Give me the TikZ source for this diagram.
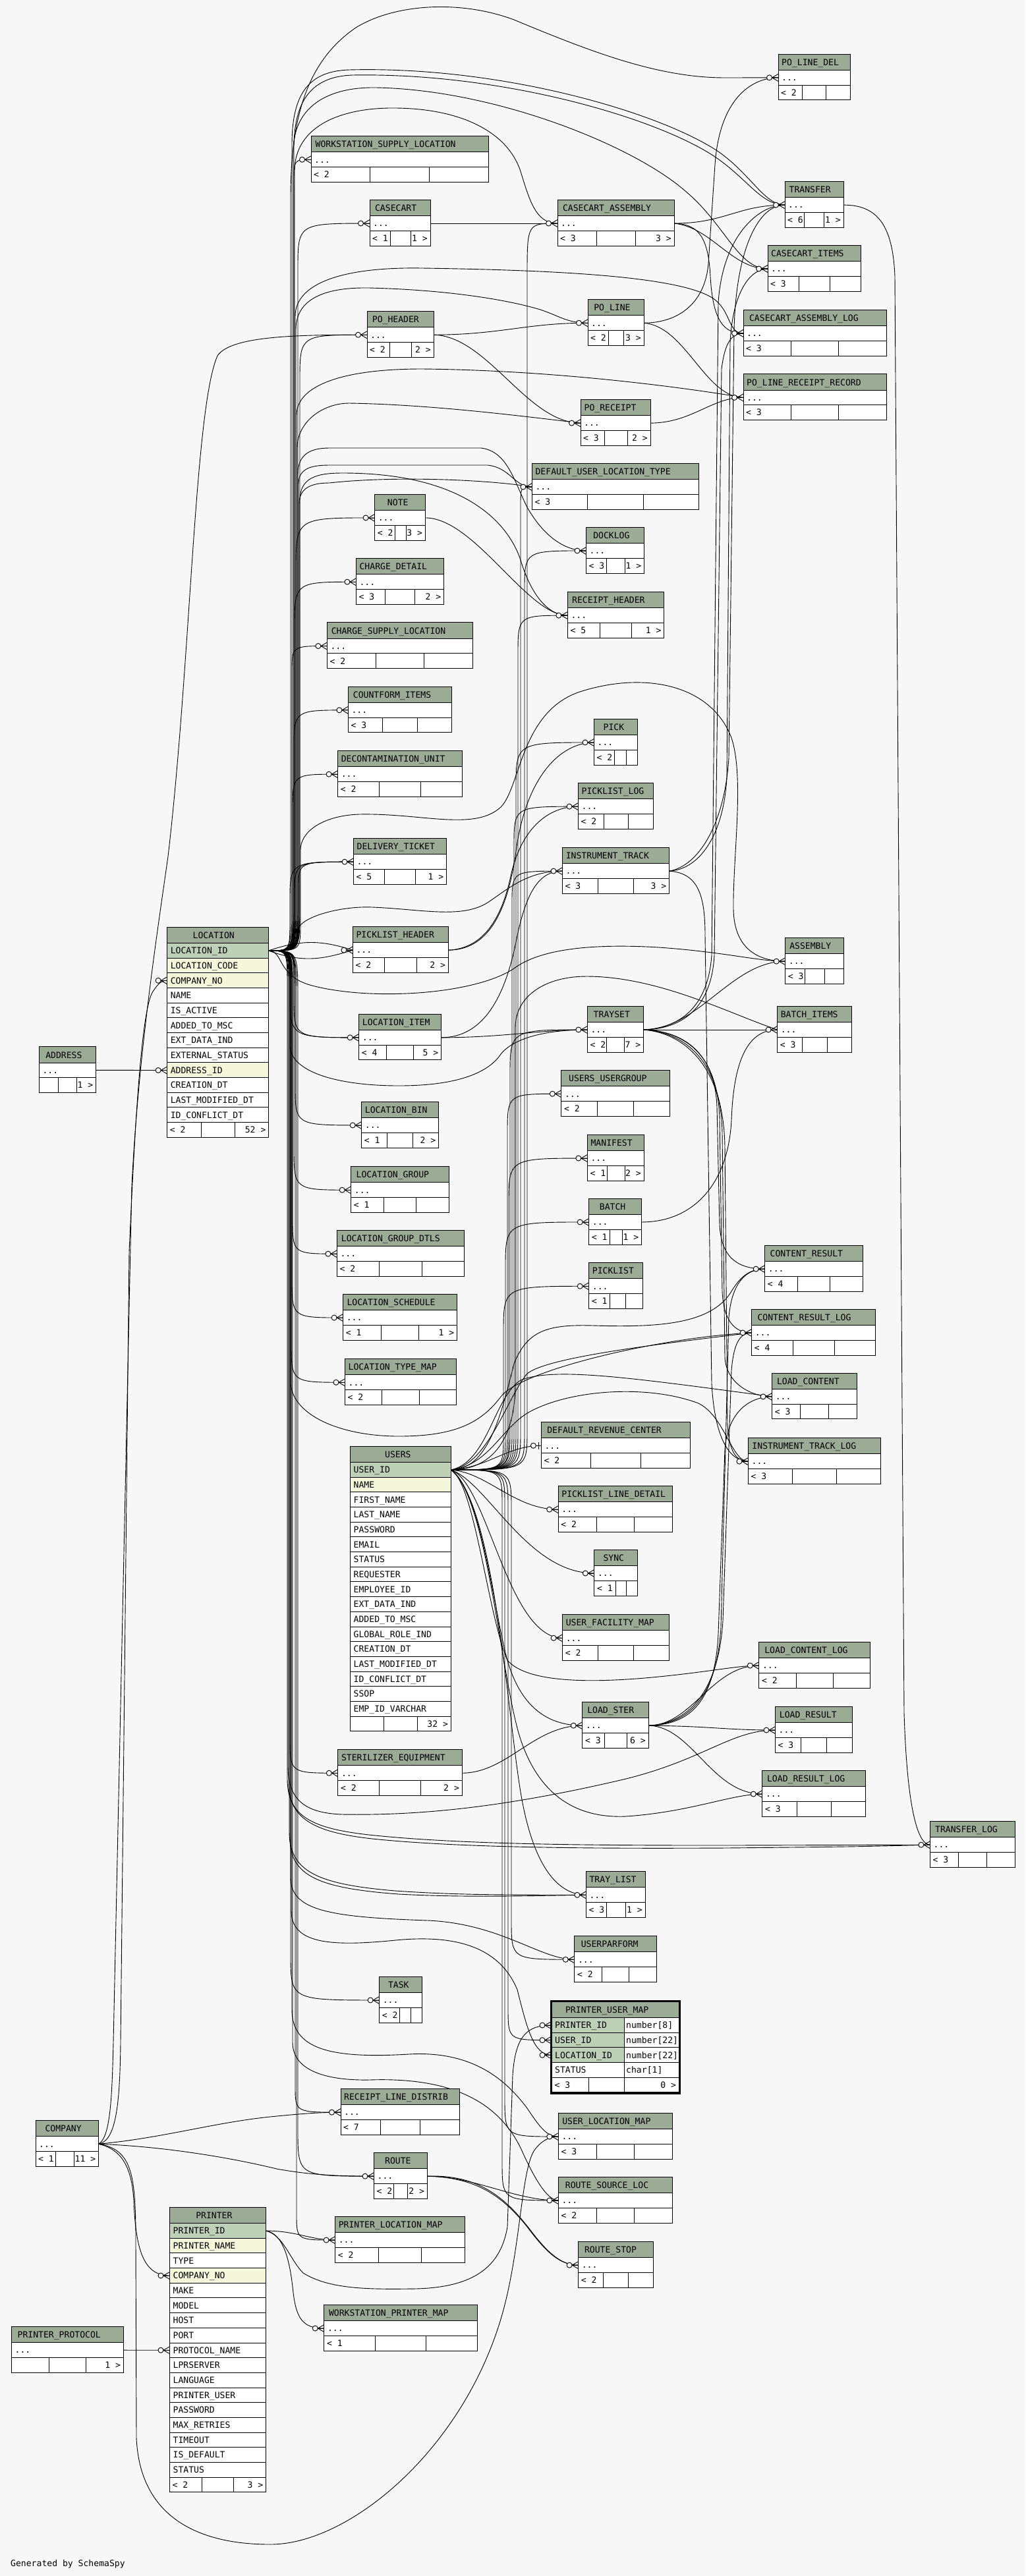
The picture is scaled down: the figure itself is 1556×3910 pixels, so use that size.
\documentclass[tikz,border=0pt]{standalone}
\usepackage{fontspec}
\newfontfamily\tabfam{DejaVu Sans Mono}
\newcommand\tabfont{\tabfam\fontsize{13.1}{15}\selectfont}
\usetikzlibrary{calc}
\definecolor{bgc}{HTML}{F7F7F7}
\definecolor{hdr}{HTML}{9BAB96}
\definecolor{pkc}{HTML}{BED1B8}
\definecolor{idx}{HTML}{F4F7DA}
\pgfdeclarelayer{bglayer}
\pgfdeclarelayer{edgelayer}
\pgfsetlayers{bglayer,edgelayer,main}
\tikzset{
 edge/.style={draw=black,line width=0.9pt},
 cell/.style={draw=black,line width=1pt},
 txt/.style={inner sep=0pt,text height=9.5pt,text depth=0pt,font=\tabfont},
}
% header text: id, L, R, T, name  (measured with a phantom node)
\newcommand\hdrtext[5]{%
 \node[txt,anchor=west] (#1-m) at (#2,#4+12.6) {\phantom{#5}};
 \path let \p1=(#1-m.east), \p2=(#1-m.west), \n1={max(#2+5,(#2+#3)/2-0.6*(\x1-\x2))} in node[txt,anchor=west] (#1) at (\n1,#4+12.6) {#5};}
% compact table: id, L, T, R, name, footL, footR, s1, s2
\newcommand\tbl[9]{%
 \fill[hdr] (#2,#3) rectangle (#4,#3+24.3);
 \fill[white] (#2,#3+24.3) rectangle (#4,#3+69.7);
 \draw[cell] (#2,#3) rectangle (#4,#3+69.7);
 \draw[cell] (#2,#3+24.3) -- (#4,#3+24.3);
 \draw[cell] (#2,#3+47) -- (#4,#3+47);
 \draw[cell] (#8,#3+47) -- (#8,#3+69.7);
 \draw[cell] (#9,#3+47) -- (#9,#3+69.7);
 \hdrtext{#1}{#2}{#4}{#3}{#5}
 \node[txt,anchor=west] at (#2+5,#3+35.65) {...};
 \node[txt,anchor=west] at (#2+4,#3+58.35) {#6};
 \node[txt,anchor=east] at (#4-4,#3+58.35) {#7};
 \coordinate (#1-i) at (#2,#3+35.65);
 \coordinate (#1-o) at (#4,#3+35.65);
}
% detailed table parts
\newcommand\dhead[5]{% id, L, R, T, name
 \filldraw[fill=hdr,cell] (#2,#4) rectangle (#3,#4+24.3);
 \hdrtext{#1}{#2}{#3}{#4}{#5}}
\newcommand\drow[5]{% L, R, top, color, text
 \filldraw[fill=#4,cell] (#1,#3) rectangle (#2,#3+22.67);
 \node[txt,anchor=west] at (#1+5,#3+11.33) {#5};}
\newcommand\dfoot[7]{% L, R, top, s1, s2, ltext, rtext
 \filldraw[fill=white,cell] (#1,#3) rectangle (#2,#3+22.67);
 \draw[cell] (#4,#3) -- (#4,#3+22.67);
 \draw[cell] (#5,#3) -- (#5,#3+22.67);
 \node[txt,anchor=west] at (#1+4,#3+11.33) {#6};
 \node[txt,anchor=east] at (#2-4,#3+11.33) {#7};}
% bus routed edges
\newcommand\busu[5]{\draw[edge] let \p1=(#1), \p2=(#2) in (#1) .. controls (#3pt,\y1) .. (#3pt,\y1+#4pt) -- (#3pt,\y2-#5pt) .. controls (#3pt,\y2) .. (#2);}
\newcommand\busd[5]{\draw[edge] let \p1=(#1), \p2=(#2) in (#1) .. controls (#3pt,\y1) .. (#3pt,\y1-#4pt) -- (#3pt,\y2+#5pt) .. controls (#3pt,\y2) .. (#2);}
% crow's foot with open circle
\newcommand\crow[1]{%
 \draw[edge] ($(#1)+(-9.5,0)$) -- ($(#1)+(0,-5.5)$);
 \draw[edge] ($(#1)+(-9.5,0)$) -- ($(#1)+(0,5.5)$);
 \draw[edge] ($(#1)+(-9.5,0)$) -- (#1);
 \filldraw[edge,fill=bgc] ($(#1)+(-13.5,0)$) circle[radius=4];}

\begin{document}
\begin{tikzpicture}[x=1pt,y=-1pt]
\useasboundingbox (0,0) rectangle (1556,3910);
\begin{pgfonlayer}{bglayer}
\fill[bgc] (0,0) rectangle (1556,3910);
\end{pgfonlayer}

% ---------------- compact tables ----------------
\tbl{pld}{1181}{82.2}{1290}{PO\_LINE\_DEL}{< 2}{}{1217.3}{1253.7}
\tbl{wsl}{472}{206.6}{741}{WORKSTATION\_SUPPLY\_LOCATION}{< 2}{}{561.7}{651.3}
\tbl{cc}{561}{303.4}{653}{CASECART}{< 1}{1 >}{592.6}{623.2}
\tbl{cca}{846}{303.4}{1023}{CASECART\_ASSEMBLY}{< 3}{3 >}{905}{964}
\tbl{trf}{1191}{275.5}{1280}{TRANSFER}{< 6}{1 >}{1220.7}{1250.3}
\tbl{cci}{1165}{372.3}{1306}{CASECART\_ITEMS}{< 3}{}{1212}{1259}
\tbl{cal}{1128}{470.3}{1345}{CASECART\_ASSEMBLY\_LOG}{< 3}{}{1200.3}{1272.7}
\tbl{plrr}{1128}{567.8}{1345}{PO\_LINE\_RECEIPT\_RECORD}{< 3}{}{1200.3}{1272.7}
\tbl{poh}{557}{472.6}{658}{PO\_HEADER}{< 2}{2 >}{591.3}{624.5}
\tbl{pol}{892}{454.6}{977}{PO\_LINE}{< 2}{3 >}{923.6}{946}
\tbl{por}{881}{606.5}{987}{PO\_RECEIPT}{< 3}{2 >}{917.7}{952.5}
\tbl{dult}{807.4}{703.4}{1060.7}{DEFAULT\_USER\_LOCATION\_TYPE}{< 3}{}{891.8}{976.3}
\tbl{note}{568.6}{750.3}{645.3}{NOTE}{< 2}{3 >}{599.7}{616.7}
\tbl{dock}{889.5}{800.3}{977.4}{DOCKLOG}{< 3}{1 >}{920.6}{948.3}
\tbl{chd}{540.4}{847.6}{673.5}{CHARGE\_DETAIL}{< 3}{2 >}{584.8}{629.1}
\tbl{rh}{861.3}{898.5}{1007.6}{RECEIPT\_HEADER}{< 5}{1 >}{910.1}{958.8}
\tbl{csl}{496.4}{944.9}{717.4}{CHARGE\_SUPPLY\_LOCATION}{< 2}{}{570.1}{643.7}
\tbl{cfi}{528.4}{1042.2}{685.5}{COUNTFORM\_ITEMS}{< 3}{}{580.8}{633.1}
\tbl{pick}{901.5}{1091.3}{967.8}{PICK}{< 2}{}{932.6}{950}
\tbl{dec}{512.6}{1139.5}{701.3}{DECONTAMINATION\_UNIT}{< 2}{}{575.5}{638.4}
\tbl{pll}{877.5}{1188.5}{991.4}{PICKLIST\_LOG}{< 2}{}{916.7}{953.4}
\tbl{dt}{536.5}{1272.5}{677.5}{DELIVERY\_TICKET}{< 5}{1 >}{583.5}{630.5}
\tbl{it}{853.5}{1286.5}{1015.5}{INSTRUMENT\_TRACK}{< 3}{3 >}{907.5}{961.5}
\tbl{plh}{535.4}{1406.5}{680.3}{PICKLIST\_HEADER}{< 2}{2 >}{583.7}{632}
\tbl{asm}{1191.7}{1423.5}{1280.6}{ASSEMBLY}{< 3}{}{1221.3}{1251}
\tbl{ts}{891.4}{1527.3}{976.4}{TRAYSET}{< 2}{7 >}{920.7}{947.1}
\tbl{bi}{1179.6}{1527.3}{1292.7}{BATCH\_ITEMS}{< 3}{}{1217.3}{1255}
\tbl{li}{544.7}{1539.2}{669.4}{LOCATION\_ITEM}{< 4}{5 >}{586.3}{627.8}
\tbl{uug}{851.8}{1624.6}{1016.6}{USERS\_USERGROUP}{< 2}{}{906.7}{961.7}
\tbl{lb}{548.7}{1672.3}{665.5}{LOCATION\_BIN}{< 1}{2 >}{587.6}{626.6}
\tbl{man}{891.4}{1722.4}{977}{MANIFEST}{< 1}{2 >}{921.9}{948.9}
\tbl{lg}{532.7}{1770.6}{681.3}{LOCATION\_GROUP}{< 1}{}{582.2}{631.8}
\tbl{bat}{893.7}{1819.3}{973.5}{BATCH}{< 1}{1 >}{925.3}{944.8}
\tbl{lgd}{511.4}{1867.5}{704.3}{LOCATION\_GROUP\_DTLS}{< 2}{}{575.7}{640}
\tbl{cr}{1160.7}{1890.4}{1309.3}{CONTENT\_RESULT}{< 4}{}{1210.2}{1259.8}
\tbl{pkl}{893.7}{1916.6}{975.3}{PICKLIST}{< 1}{}{925.3}{949.4}
\tbl{ls}{520.6}{1964.4}{693.4}{LOCATION\_SCHEDULE}{< 1}{1 >}{578.2}{635.8}
\tbl{crl}{1140.6}{1987.3}{1328.9}{CONTENT\_RESULT\_LOG}{< 4}{}{1203.4}{1266.1}
\tbl{ltm}{523.5}{2062.6}{692.3}{LOCATION\_TYPE\_MAP}{< 2}{}{579.8}{636}
\tbl{lc}{1171.6}{2084.2}{1300.2}{LOAD\_CONTENT}{< 3}{}{1214.5}{1257.3}
\tbl{drc}{821.4}{2158.6}{1047.6}{DEFAULT\_REVENUE\_CENTER}{< 2}{}{896.8}{972.2}
\tbl{itl}{1135.4}{2182.5}{1336.9}{INSTRUMENT\_TRACK\_LOG}{< 3}{}{1202.6}{1269.7}
\tbl{pldt}{847.2}{2255.5}{1020.6}{PICKLIST\_LINE\_DETAIL}{< 2}{}{905}{962.8}
\tbl{sync}{901.8}{2352.3}{967.2}{SYNC}{< 1}{}{934}{950.6}
\tbl{ufm}{853.6}{2450.6}{1015.4}{USER\_FACILITY\_MAP}{< 2}{}{907.5}{961.5}
\tbl{lcl}{1151.8}{2492.4}{1320.4}{LOAD\_CONTENT\_LOG}{< 2}{}{1208}{1264.2}
\tbl{lst}{883.8}{2583.5}{984}{LOAD\_STER}{< 3}{6 >}{917}{951.5}
\tbl{lr}{1176.5}{2590.4}{1293.6}{LOAD\_RESULT}{< 3}{}{1215.5}{1254.6}
\tbl{se}{512.8}{2655.6}{701.1}{STERILIZER\_EQUIPMENT}{< 2}{2 >}{575.6}{638.3}
\tbl{lrl}{1156.8}{2687.4}{1313.4}{LOAD\_RESULT\_LOG}{< 3}{}{1209}{1261.2}
\tbl{tl}{1411.4}{2764.5}{1540.5}{TRANSFER\_LOG}{< 3}{}{1454.4}{1497.5}
\tbl{tray}{889.4}{2840.6}{979}{TRAY\_LIST}{< 3}{1 >}{920.5}{949.4}
\tbl{upf}{871.8}{2938.6}{996}{USERPARFORM}{< 2}{}{913.2}{954.6}
\tbl{task}{575.6}{3000.3}{640.4}{TASK}{< 2}{}{606.6}{623.5}
\tbl{rld}{517}{3170.5}{697.6}{RECEIPT\_LINE\_DISTRIB}{< 7}{}{577.2}{637.4}
\tbl{ulm}{847.3}{3207.4}{1020.3}{USER\_LOCATION\_MAP}{< 3}{}{905}{962.6}
\tbl{comp}{54}{3218.6}{149.4}{COMPANY}{< 1}{11 >}{84.2}{112.2}
\tbl{route}{567.5}{3267.5}{648.2}{ROUTE}{< 2}{2 >}{597.7}{618.7}
\tbl{rsl}{847.4}{3304.3}{1020}{ROUTE\_SOURCE\_LOC}{< 2}{}{905}{962.5}
\tbl{plm}{508.6}{3364.4}{705}{PRINTER\_LOCATION\_MAP}{< 2}{}{574.1}{639.5}
\tbl{rs}{877.6}{3402.5}{991.2}{ROUTE\_STOP}{< 2}{}{915.5}{953.3}
\tbl{wpm}{491.8}{3498.4}{724}{WORKSTATION\_PRINTER\_MAP}{< 1}{}{569.2}{646.6}
\tbl{pp}{17.5}{3531.5}{187.3}{PRINTER\_PROTOCOL}{}{1 >}{74.1}{130.7}
\tbl{addr}{59.4}{1588.7}{145.5}{ADDRESS}{}{1 >}{88.1}{116.8}

% ---------------- LOCATION ----------------
\dhead{loc}{253.6}{407.6}{1407.3}{LOCATION}
\foreach \c/\t [count=\i from 0] in {pkc/LOCATION\_ID,idx/LOCATION\_CODE,idx/COMPANY\_NO,white/NAME,white/IS\_ACTIVE,white/ADDED\_TO\_MSC,white/EXT\_DATA\_IND,white/EXTERNAL\_STATUS,idx/ADDRESS\_ID,white/CREATION\_DT,white/LAST\_MODIFIED\_DT,white/ID\_CONFLICT\_DT}
 {\drow{253.6}{407.6}{1431.6+22.67*\i}{\c}{\t}}
\dfoot{253.6}{407.6}{1703.64}{305}{356.3}{< 2}{52 >}
\coordinate (loc-o) at (407.6,1443);
\coordinate (loc-cn) at (253.6,1488.3);
\coordinate (loc-ad) at (253.6,1624.5);

% ---------------- USERS ----------------
\dhead{usr}{531.5}{684.2}{2195.3}{USERS}
\foreach \c/\t [count=\i from 0] in {pkc/USER\_ID,idx/NAME,white/FIRST\_NAME,white/LAST\_NAME,white/PASSWORD,white/EMAIL,white/STATUS,white/REQUESTER,white/EMPLOYEE\_ID,white/EXT\_DATA\_IND,white/ADDED\_TO\_MSC,white/GLOBAL\_ROLE\_IND,white/CREATION\_DT,white/LAST\_MODIFIED\_DT,white/ID\_CONFLICT\_DT,white/SSOP,white/EMP\_ID\_VARCHAR}
 {\drow{531.5}{684.2}{2219.6+22.67*\i}{\c}{\t}}
\dfoot{531.5}{684.2}{2604.99}{582.4}{633.3}{}{32 >}
\coordinate (usr-o) at (684.2,2231);

% ---------------- PRINTER ----------------
\dhead{prn}{257.5}{403.4}{3350.4}{PRINTER}
\foreach \c/\t [count=\i from 0] in {pkc/PRINTER\_ID,idx/PRINTER\_NAME,white/TYPE,idx/COMPANY\_NO,white/MAKE,white/MODEL,white/HOST,white/PORT,white/PROTOCOL\_NAME,white/LPRSERVER,white/LANGUAGE,white/PRINTER\_USER,white/PASSWORD,white/MAX\_RETRIES,white/TIMEOUT,white/IS\_DEFAULT,white/STATUS}
 {\drow{257.5}{403.4}{3374.6+22.67*\i}{\c}{\t}}
\dfoot{257.5}{403.4}{3759.99}{306.1}{354.8}{< 2}{3 >}
\coordinate (prn-o) at (403.4,3386);
\coordinate (prn-cn) at (257.5,3454);
\coordinate (prn-pn) at (257.5,3567.2);

% ---------------- PRINTER_USER_MAP ----------------
\dhead{pum}{837.5}{1030.2}{3038.2}{PRINTER\_USER\_MAP}
\filldraw[fill=pkc,cell] (837.5,3062.6) rectangle (947.3,3085.27);
\filldraw[fill=white,cell] (947.3,3062.6) rectangle (1030.2,3085.27);
\node[txt,anchor=west] at (842,3073.93) {PRINTER\_ID};
\node[txt,anchor=west] at (950,3073.93) {number[8]};
\filldraw[fill=pkc,cell] (837.5,3085.27) rectangle (947.3,3107.94);
\filldraw[fill=white,cell] (947.3,3085.27) rectangle (1030.2,3107.94);
\node[txt,anchor=west] at (842,3096.6) {USER\_ID};
\node[txt,anchor=west] at (950,3096.6) {number[22]};
\filldraw[fill=pkc,cell] (837.5,3107.94) rectangle (947.3,3130.61);
\filldraw[fill=white,cell] (947.3,3107.94) rectangle (1030.2,3130.61);
\node[txt,anchor=west] at (842,3119.27) {LOCATION\_ID};
\node[txt,anchor=west] at (950,3119.27) {number[22]};
\filldraw[fill=white,cell] (837.5,3130.61) rectangle (947.3,3153.28);
\filldraw[fill=white,cell] (947.3,3130.61) rectangle (1030.2,3153.28);
\node[txt,anchor=west] at (842,3141.94) {STATUS};
\node[txt,anchor=west] at (950,3141.94) {char[1]};
\dfoot{837.5}{1030.2}{3153.28}{893}{947.3}{< 3}{0 >}
\draw[line width=2.6pt] (836.2,3036.9) rectangle (1031.5,3177.4);
\coordinate (pum-pid) at (836.5,3074);
\coordinate (pum-uid) at (836.5,3096.6);
\coordinate (pum-lid) at (836.5,3119.3);

\node[txt,anchor=west] (gen) at (16,3891) {Generated by SchemaSpy};

% ---------------- edges ----------------
\begin{pgfonlayer}{edgelayer}
% LOCATION, bus up
\busu{loc-o}{wsl-i}{446}{80}{35}
\busu{loc-o}{cc-i}{452}{75}{70}
\busu{loc-o}{poh-i}{455}{70}{70}
\busu{loc-o}{note-i}{449}{65}{80}
\busu{loc-o}{chd-i}{447}{60}{70}
\busu{loc-o}{csl-i}{443}{55}{40}
\busu{loc-o}{cfi-i}{446}{55}{60}
\busu{loc-o}{dec-i}{444}{50}{55}
\busu{loc-o}{dt-i}{440}{45}{60}
\busu{loc-o}{dt-i}{447}{50}{50}
\busu{loc-o}{dt-i}{453}{40}{40}
% LOCATION, bus down
\busd{loc-o}{li-i}{440}{40}{70}
\busd{loc-o}{li-i}{446}{45}{60}
\busd{loc-o}{lb-i}{448}{50}{60}
\busd{loc-o}{lg-i}{446}{55}{65}
\busd{loc-o}{lgd-i}{444}{55}{55}
\busd{loc-o}{ls-i}{443}{60}{60}
\busd{loc-o}{ltm-i}{442}{60}{60}
\busd{loc-o}{se-i}{440}{65}{55}
\busd{loc-o}{task-i}{441}{70}{70}
\busd{loc-o}{rld-i}{448}{70}{40}
\busd{loc-o}{route-i}{452}{75}{70}
\busd{loc-o}{plm-i}{450}{75}{40}
% LOCATION to picklist header
\draw[edge] (loc-o) .. controls (460,1425) and (490,1428) .. (plh-i);
\draw[edge] (loc-o) .. controls (460,1462) and (490,1456) .. (plh-i);
% LOCATION, long routes upward
\draw[edge] (loc-o) .. controls (441,1443) .. (441,1390) -- (441,300) .. controls (441,170) and (470,90) .. (540,42) .. controls (600,5) and (700,0) .. (780,30) .. controls (900,80) and (1000,118) .. (1100,118) .. controls (1140,118) .. (pld-i);
\draw[edge] (loc-o) .. controls (443,1443) .. (443,1385) -- (443,220) .. controls (443,140) and (470,108) .. (530,106) .. controls (760,100) and (1000,170) .. (1090,230) .. controls (1140,265) and (1160,311) .. (trf-i);
\draw[edge] (loc-o) .. controls (446,1443) .. (446,1385) -- (446,225) .. controls (446,150) and (475,116) .. (535,114) .. controls (760,110) and (995,178) .. (1085,238) .. controls (1135,272) and (1155,311) .. (trf-i);
\draw[edge] (loc-o) .. controls (445,1443) .. (445,1380) -- (445,230) .. controls (445,160) and (500,132) .. (570,133) .. controls (750,136) and (960,220) .. (1040,290) .. controls (1100,340) and (1120,408) .. (cci-i);
\draw[edge] (loc-o) .. controls (447,1443) .. (447,1380) -- (447,260) .. controls (447,190) and (520,163) .. (600,164) .. controls (700,165) and (770,200) .. (790,260) .. controls (805,310) and (815,339) .. (cca-i);
\draw[edge] (loc-o) .. controls (448,1443) .. (448,1380) -- (448,480) .. controls (448,430) and (520,405) .. (640,407) .. controls (850,410) and (1040,420) .. (1085,455) .. controls (1110,475) and (1105,506) .. (cal-i);
\draw[edge] (loc-o) .. controls (449,1443) .. (449,1380) -- (449,500) .. controls (449,450) and (500,436) .. (560,437) .. controls (680,440) and (770,455) .. (820,470) .. controls (850,480) and (860,490) .. (pol-i);
\draw[edge] (loc-o) .. controls (450,1443) .. (450,1380) -- (450,630) .. controls (450,585) and (520,560) .. (640,560) .. controls (850,562) and (1050,590) .. (plrr-i);
\draw[edge] (loc-o) .. controls (451,1443) .. (451,1380) -- (451,680) .. controls (451,640) and (490,612) .. (530,612) .. controls (650,614) and (780,630) .. (por-i);
\draw[edge] (loc-o) .. controls (452,1443) .. (452,1380) -- (452,720) .. controls (452,690) and (470,680) .. (500,680) -- (730,680) .. controls (770,685) and (780,730) .. (800,770) .. controls (820,805) and (850,836) .. (dock-i);
\draw[edge] (loc-o) .. controls (453,1443) .. (453,1380) -- (453,735) .. controls (453,712) and (470,706) .. (500,706) -- (740,706) .. controls (775,710) and (780,739) .. (dult-i);
\draw[edge] (loc-o) .. controls (454,1443) .. (454,1380) -- (454,765) .. controls (454,742) and (470,733) .. (500,733) .. controls (600,722) and (740,728) .. (dult-i);
\draw[edge] (loc-o) .. controls (455,1443) .. (455,1380) -- (455,760) .. controls (455,725) and (480,718) .. (520,718) .. controls (700,718) and (770,790) .. (790,850) .. controls (805,900) and (830,934) .. (rh-i);
\draw[edge] (loc-o) .. controls (456,1443) .. (456,1400) -- (456,1290) .. controls (456,1262) and (490,1238) .. (545,1236) .. controls (640,1234) and (720,1262) .. (760,1225) .. controls (790,1195) and (790,1080) .. (880,1050) .. controls (980,1018) and (1080,1040) .. (1110,1120) .. controls (1130,1180) and (1112,1300) .. (1113,1380) .. controls (1114,1440) and (1150,1459) .. (asm-i);
\draw[edge] (loc-o) .. controls (430,1443) and (420,1480) .. (470,1495) .. controls (560,1520) and (720,1510) .. (780,1470) .. controls (820,1440) and (900,1432) .. (1000,1438) .. controls (1100,1445) and (1150,1459) .. (asm-i);
\draw[edge] (loc-o) .. controls (450,1443) .. (452,1410) .. controls (460,1390) and (520,1375) .. (565,1377) .. controls (640,1380) and (700,1395) .. (740,1370) .. controls (770,1350) and (800,1322) .. (it-i);
\draw[edge] (loc-o) .. controls (440,1443) .. (440,1500) -- (440,1590) .. controls (445,1630) and (520,1648) .. (605,1648) .. controls (690,1648) and (740,1630) .. (760,1600) .. controls (780,1575) and (830,1563) .. (ts-i);
% LOCATION, long routes downward
\draw[edge] (loc-o) .. controls (441,1443) .. (441,1500) -- (441,2100) .. controls (445,2150) and (520,2180) .. (605,2180) .. controls (690,2180) and (730,2160) .. (760,2120) .. controls (790,2080) and (1000,2030) .. (crl-i);
\draw[edge] (loc-o) .. controls (437,1443) .. (437,1500) -- (437,2680) .. controls (437,2730) and (460,2752) .. (520,2754) .. controls (650,2756) and (780,2740) .. (950,2700) .. controls (1070,2670) and (1110,2626) .. (lr-i);
\draw[edge] (loc-o) .. controls (436,1443) .. (436,1500) -- (436,2700) .. controls (436,2755) and (470,2775) .. (560,2785) .. controls (700,2800) and (900,2801) .. (1100,2801) -- (tl-i);
\draw[edge] (loc-o) .. controls (438,1443) .. (438,1500) -- (438,2705) .. controls (438,2760) and (475,2781) .. (565,2791) .. controls (700,2805) and (900,2806) .. (1100,2805) .. controls (1300,2803) .. (tl-i);
\draw[edge] (loc-o) .. controls (439,1443) .. (439,1500) -- (439,2780) .. controls (439,2840) and (480,2860) .. (600,2870) .. controls (700,2877) and (780,2876) .. (tray-i);
\draw[edge] (loc-o) .. controls (440,1443) .. (440,1500) -- (440,2790) .. controls (440,2848) and (485,2866) .. (605,2875) .. controls (700,2880) and (780,2878) .. (tray-i);
\draw[edge] (loc-o) .. controls (441,1443) .. (441,1500) -- (441,2850) .. controls (441,2900) and (500,2910) .. (650,2915) .. controls (760,2920) and (820,2974) .. (upf-i);
\draw[edge] (loc-o) .. controls (442,1443) .. (442,1500) -- (442,2900) .. controls (442,2950) and (500,2955) .. (600,2945) .. controls (700,2935) and (760,2960) .. (785,3020) .. controls (800,3080) and (810,3119) .. (pum-lid);
\draw[edge] (loc-o) .. controls (443,1443) .. (443,1500) -- (443,3050) .. controls (443,3110) and (500,3125) .. (620,3118) .. controls (720,3112) and (770,3160) .. (800,3200) .. controls (820,3230) and (830,3243) .. (ulm-i);
\draw[edge] (loc-o) .. controls (444,1443) .. (444,1500) -- (444,3100) .. controls (444,3145) and (500,3158) .. (560,3157) .. controls (700,3152) and (760,3200) .. (790,3260) .. controls (810,3305) and (830,3340) .. (rsl-i);
% USERS, bus up
\busu{usr-o}{cca-i}{800}{60}{80}
\busu{usr-o}{dult-i}{790}{60}{30}
\busu{usr-o}{dock-i}{796}{60}{60}
\busu{usr-o}{rh-i}{786}{60}{60}
\busu{usr-o}{pick-i}{783}{60}{70}
\busu{usr-o}{pll-i}{780}{60}{60}
\busu{usr-o}{it-i}{777}{60}{50}
\busu{usr-o}{ts-i}{774}{60}{70}
\busu{usr-o}{uug-i}{770}{60}{60}
\busu{usr-o}{man-i}{772}{55}{70}
\busu{usr-o}{bat-i}{767}{55}{70}
\busu{usr-o}{pkl-i}{764}{50}{70}
% USERS, waves
\draw[edge] (usr-o) .. controls (750,2231) and (782,2180) .. (782,2100) -- (782,1560) .. controls (782,1510) and (830,1482) .. (890,1482) .. controls (1000,1482) and (1110,1540) .. (bi-i);
\draw[edge] (usr-o) .. controls (740,2231) and (760,2150) .. (780,2070) .. controls (800,2020) and (830,2010) .. (900,2012) .. controls (1000,2015) and (1080,2010) .. (1110,1960) .. controls (1125,1935) and (1140,1926) .. (cr-i);
\draw[edge] (usr-o) .. controls (740,2225) and (770,2120) .. (800,2085) .. controls (830,2060) and (1000,2040) .. (crl-i);
\draw[edge] (usr-o) .. controls (740,2220) and (750,2120) .. (790,2095) .. controls (840,2075) and (950,2090) .. (lc-i);
\draw[edge] (usr-o) .. controls (740,2225) and (760,2170) .. (800,2145) .. controls (860,2110) and (980,2100) .. (1060,2130) .. controls (1100,2150) and (1110,2218) .. (itl-i);
\draw[edge] (usr-o) .. controls (740,2228) and (770,2194) .. (drc-i);
\draw[edge] (usr-o) .. controls (740,2235) and (780,2291) .. (pldt-i);
\draw[edge] (usr-o) .. controls (740,2250) and (800,2388) .. (sync-i);
\draw[edge] (usr-o) .. controls (740,2250) and (770,2486) .. (ufm-i);
\draw[edge] (usr-o) .. controls (720,2250) and (740,2450) .. (770,2520) .. controls (800,2555) and (900,2555) .. (1000,2545) .. controls (1080,2537) and (1120,2528) .. (lcl-i);
\draw[edge] (usr-o) .. controls (730,2260) and (750,2450) .. (770,2520) .. controls (790,2590) and (830,2619) .. (lst-i);
\draw[edge] (usr-o) .. controls (740,2270) and (760,2550) .. (790,2640) .. controls (820,2730) and (880,2760) .. (950,2757) .. controls (1050,2750) and (1110,2723) .. (lrl-i);
\draw[edge] (usr-o) .. controls (750,2280) and (770,2600) .. (790,2720) .. controls (810,2840) and (850,2876) .. (tray-i);
\busd{usr-o}{upf-i}{776}{60}{60}
\busd{usr-o}{pum-uid}{771}{60}{50}
\busd{usr-o}{ulm-i}{766}{55}{60}
\busd{usr-o}{rsl-i}{762}{55}{60}
% other tables
\draw[edge] (cc-o) -- (cca-i);
\draw[edge] (cca-o) .. controls (1100,339) and (1120,311) .. (trf-i);
\draw[edge] (cca-o) .. controls (1080,345) and (1110,408) .. (cci-i);
\draw[edge] (cca-o) .. controls (1060,340) and (1075,360) .. (1078,420) .. controls (1082,490) and (1100,506) .. (cal-i);
\draw[edge] (poh-o) .. controls (760,508) and (800,490) .. (pol-i);
\draw[edge] (poh-o) .. controls (740,510) and (800,642) .. (por-i);
\draw[edge] (pol-o) .. controls (1030,490) and (1070,460) .. (1075,400) -- (1085,250) .. controls (1092,150) and (1140,118) .. (pld-i);
\draw[edge] (pol-o) .. controls (1040,495) and (1070,603) .. (plrr-i);
\draw[edge] (por-o) .. controls (1050,642) and (1080,603) .. (plrr-i);
\draw[edge] (note-o) .. controls (720,786) and (800,934) .. (rh-i);
\draw[edge] (plh-o) .. controls (730,1440) and (760,1400) .. (775,1330) .. controls (790,1260) and (830,1224) .. (pll-i);
\draw[edge] (plh-o) .. controls (738,1442) and (768,1390) .. (782,1300) .. controls (796,1180) and (850,1127) .. (pick-i);
\draw[edge] (li-o) .. controls (740,1575) and (770,1500) .. (785,1420) .. controls (800,1350) and (820,1322) .. (it-i);
\draw[edge] (li-o) .. controls (760,1575) and (820,1563) .. (ts-i);
\draw[edge] (ts-o) -- (bi-i);
\draw[edge] (ts-o) .. controls (1060,1563) and (1110,1459) .. (asm-i);
\draw[edge] (ts-o) .. controls (1040,1560) and (1075,1520) .. (1080,1450) -- (1090,460) .. controls (1096,360) and (1150,311) .. (trf-i);
\draw[edge] (ts-o) .. controls (1040,1562) and (1080,1525) .. (1084,1450) -- (1095,560) .. controls (1100,520) and (1110,506) .. (cal-i);
\draw[edge] (ts-o) .. controls (1040,1565) and (1085,1600) .. (1088,1680) -- (1092,1860) .. controls (1095,1910) and (1120,1926) .. (cr-i);
\draw[edge] (ts-o) .. controls (1040,1566) and (1090,1600) .. (1092,1700) -- (1096,1960) .. controls (1098,2005) and (1115,2023) .. (crl-i);
\draw[edge] (ts-o) .. controls (1040,1567) and (1094,1610) .. (1096,1720) -- (1100,2060) .. controls (1102,2100) and (1140,2120) .. (lc-i);
\draw[edge] (ts-o) .. controls (1040,1568) and (1098,1620) .. (1100,1740) -- (1104,2160) .. controls (1106,2200) and (1115,2218) .. (itl-i);
\draw[edge] (it-o) .. controls (1060,1315) and (1100,1250) .. (1106,1150) -- (1114,500) .. controls (1117,380) and (1150,311) .. (trf-i);
\draw[edge] (it-o) .. controls (1060,1320) and (1098,1270) .. (1103,1180) -- (1108,520) .. controls (1112,440) and (1140,408) .. (cci-i);
\draw[edge] (it-o) .. controls (1060,1325) and (1070,1360) .. (1070,1420) -- (1080,2100) .. controls (1085,2190) and (1110,2218) .. (itl-i);
\draw[edge] (bat-o) .. controls (1050,1855) and (1105,1800) .. (1110,1700) .. controls (1113,1620) and (1130,1563) .. (bi-i);
\draw[edge] (se-o) .. controls (770,2691) and (810,2619) .. (lst-i);
\draw[edge] (lst-o) .. controls (1080,2620) and (1100,2626) .. (lr-i);
\draw[edge] (lst-o) .. controls (1050,2620) and (1080,2723) .. (lrl-i);
\draw[edge] (lst-o) .. controls (1050,2619) and (1080,2528) .. (lcl-i);
\draw[edge] (lst-o) .. controls (1050,2618) and (1085,2580) .. (1090,2480) -- (1100,2200) .. controls (1105,2140) and (1140,2120) .. (lc-i);
\draw[edge] (lst-o) .. controls (1050,2617) and (1088,2570) .. (1094,2470) -- (1106,2000) .. controls (1110,1950) and (1130,1926) .. (cr-i);
\draw[edge] (lst-o) .. controls (1050,2616) and (1091,2560) .. (1097,2460) -- (1110,2080) .. controls (1113,2045) and (1120,2023) .. (crl-i);
\draw[edge] (trf-o) .. controls (1330,311) and (1355,340) .. (1358,420) -- (1372,2600) .. controls (1376,2730) and (1390,2800) .. (tl-i);
\draw[edge] (route-o) .. controls (720,3303) and (780,3340) .. (rsl-i);
\draw[edge] (route-o) .. controls (720,3305) and (760,3330) .. (800,3380) .. controls (830,3420) and (850,3438) .. (rs-i);
\draw[edge] (route-o) .. controls (730,3300) and (770,3340) .. (805,3385) .. controls (835,3425) and (855,3438) .. (rs-i);
% COMPANY
\draw[edge] (comp-o) .. controls (250,3245) and (330,3220) .. (420,3212) .. controls (460,3208) and (490,3206) .. (rld-i);
\draw[edge] (comp-o) .. controls (250,3258) and (350,3275) .. (420,3292) .. controls (480,3303) and (530,3303) .. (route-i);
\draw[edge] (comp-o) .. controls (185,3262) and (200,3290) .. (203,3340) .. controls (206,3420) and (220,3454) .. (prn-cn);
\draw[edge] (comp-o) .. controls (175,3250) and (182,3200) .. (183,3100) -- (196,1900) .. controls (205,1700) and (215,1530) .. (232,1505) .. controls (240,1493) and (245,1488) .. (loc-cn);
\draw[edge] (comp-o) .. controls (168,3245) and (170,3180) .. (172,3100) -- (200,1800) .. controls (210,1600) and (238,1420) .. (255,1300) .. controls (290,1000) and (295,620) .. (330,540) .. controls (350,510) and (450,508) .. (poh-i);
\draw[edge] (comp-o) .. controls (200,3262) and (206,3300) .. (206,3400) -- (207,3700) .. controls (212,3820) and (300,3862) .. (410,3862) .. controls (530,3862) and (700,3720) .. (760,3520) .. controls (790,3420) and (790,3300) .. (810,3265) .. controls (822,3248) and (835,3243) .. (ulm-i);
% PRINTER
\draw[edge] (prn-o) .. controls (450,3386) and (470,3400) .. (plm-i);
\draw[edge] (prn-o) .. controls (430,3390) and (440,3430) .. (445,3480) .. controls (450,3520) and (460,3534) .. (wpm-i);
\draw[edge] (prn-o) .. controls (430,3392) and (440,3430) .. (460,3450) .. controls (500,3475) and (560,3475) .. (630,3474) .. controls (720,3472) and (760,3440) .. (770,3380) -- (778,3150) .. controls (782,3090) and (800,3074) .. (pum-pid);
\draw[edge] (pp-o) -- (prn-pn);
\draw[edge] (addr-o) -- (loc-ad);
\end{pgfonlayer}

% ---------------- crow's feet ----------------
\foreach \e in {wsl-i,cc-i,poh-i,note-i,chd-i,csl-i,cfi-i,dec-i,dt-i,plh-i,li-i,lb-i,lg-i,lgd-i,ls-i,ltm-i,se-i,task-i,rld-i,route-i,plm-i,wpm-i,pld-i,trf-i,cci-i,cca-i,cal-i,pol-i,plrr-i,por-i,dock-i,dult-i,rh-i,asm-i,bi-i,pick-i,pll-i,it-i,ts-i,uug-i,man-i,bat-i,pkl-i,cr-i,crl-i,lc-i,itl-i,pldt-i,sync-i,ufm-i,lcl-i,lst-i,lrl-i,lr-i,tray-i,upf-i,ulm-i,rsl-i,rs-i,tl-i,loc-cn,loc-ad,prn-cn,prn-pn,pum-pid,pum-uid,pum-lid}
 {\crow{\e}}
% one-to-one marker on DEFAULT_REVENUE_CENTER
\draw[edge] ($(drc-i)+(-4,-5.5)$) -- ($(drc-i)+(-4,5.5)$);
\filldraw[edge,fill=bgc] ($(drc-i)+(-12,0)$) circle[radius=4];
\end{tikzpicture}
\end{document}
